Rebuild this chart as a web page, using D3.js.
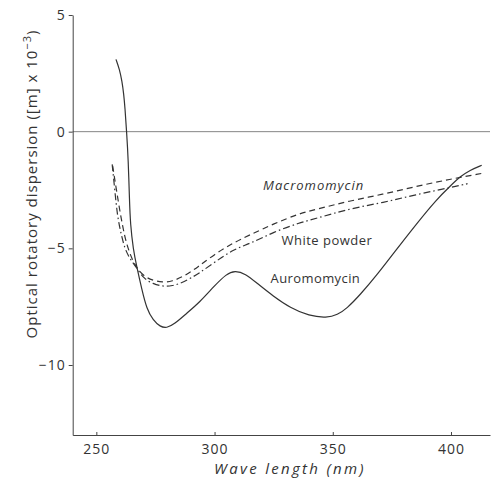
<!DOCTYPE html>
<html><head><meta charset="utf-8">
<script src="https://cdn.jsdelivr.net/npm/d3@7"></script>
<style>
body{margin:0;background:#fff;}
svg{display:block;}
text{font-family:"Open Sans","DejaVu Sans",sans-serif;fill:#333;}
</style></head>
<body><svg id="c" width="493" height="479"></svg>
<script>
// Data (wavelength nm, ORD value x10^-3)
const auromomycin = [
 [258.3,3.1],[259.8,2.67],[260.85,2.16],[261.6,1.6],[262.1,1.04],[262.8,0],[263.5,-1.19],[264.0,-2.9],[264.4,-3.97],
 [265.6,-5.04],[267.1,-5.8],[269.2,-6.74],[271.3,-7.6],[274,-8.08],[277,-8.36],[279.7,-8.42],
 [283,-8.25],[288,-7.8],[293.8,-7.3],[300,-6.6],[305,-6.1],[308.6,-5.95],[313,-6.08],[318,-6.5],
 [324.8,-7.05],[332,-7.55],[340,-7.9],[347.4,-7.98],[352,-7.85],[355.9,-7.58],[361.5,-7.0],
 [369,-6.1],[377,-5.04],[385,-4.0],[393.9,-2.9],[400,-2.3],[403.8,-1.93],[408,-1.65],[413,-1.44]
];
const macromomycin = [
 [256.9,-1.47],[258.5,-2.5],[260.3,-3.62],[262,-4.5],[263.5,-5.04],[265.5,-5.55],[267.1,-5.83],
 [270,-6.2],[274,-6.38],[278,-6.46],[282,-6.42],[287,-6.2],[293,-5.8],[300,-5.25],[308,-4.76],
 [315,-4.42],[325,-3.95],[336,-3.5],[343,-3.33],[357,-2.97],[371,-2.69],[385,-2.35],
 [399.5,-2.04],[413,-1.79]
];
const whitePowder = [
 [256.7,-1.4],[257.8,-2.5],[258.9,-3.62],[260.5,-4.4],[262.1,-5.04],[264.5,-5.5],[267.1,-5.83],
 [270,-6.3],[274,-6.52],[278,-6.63],[282,-6.62],[287,-6.45],[293,-6.1],[300,-5.6],[308,-5.04],
 [315,-4.8],[325,-4.3],[336,-3.9],[343,-3.72],[357,-3.3],[371.4,-3.04],[385,-2.7],
 [399.5,-2.4],[407,-2.23]
];
const xTicks = [250,300,350,400];
const yTicks = [5,0,-5,-10];
const seriesNames = ["Macromomycin","White powder","Auromomycin"];

const svg = d3.select("#c");
const x = d3.scaleLinear().domain([240,416.5]).range([72.7,490]);
const y = d3.scaleLinear().domain([-13,5]).range([435,15]);

// zero line
svg.append("line").attr("x1",x(240)).attr("x2",x(416.5)).attr("y1",y(0)).attr("y2",y(0))
  .attr("stroke","#777").attr("stroke-width",0.9);

const xa = svg.append("g").attr("transform",`translate(0,${y(-13)})`)
  .call(d3.axisBottom(x).tickValues(xTicks).tickSizeInner(-3).tickSizeOuter(0).tickPadding(9));
const ya = svg.append("g").attr("transform",`translate(${x(240)},0)`)
  .call(d3.axisLeft(y).tickValues(yTicks).tickSizeInner(4).tickSizeOuter(0).tickPadding(3)
    .tickFormat(d=> d<0 ? "\u2212"+Math.abs(d) : d));
[xa,ya].forEach(g=>{
  g.select(".domain").attr("stroke","#444").attr("stroke-width",1);
  g.selectAll(".tick line").attr("stroke","#444");
  g.selectAll(".tick text").attr("font-size",14).attr("fill","#333")
   .attr("letter-spacing","1").style("font-family","'Open Sans',sans-serif");
});

const line = d3.line().x(d=>x(d[0])).y(d=>y(d[1])).curve(d3.curveBasis);
svg.append("path").datum(auromomycin).attr("d",line).attr("fill","none")
  .attr("stroke","#333").attr("stroke-width",1.2);
svg.append("path").datum(macromomycin).attr("d",line).attr("fill","none")
  .attr("stroke","#333").attr("stroke-width",1.2).attr("stroke-dasharray","6,4");
svg.append("path").datum(whitePowder).attr("d",line).attr("fill","none")
  .attr("stroke","#333").attr("stroke-width",1.2).attr("stroke-dasharray","7,3,1.5,3");

// series labels
svg.append("text").attr("x",x(320.5)).attr("y",y(-2.5)).attr("font-size",13)
  .attr("font-style","italic").attr("letter-spacing","1").text(seriesNames[0]);
svg.append("text").attr("x",x(328.3)).attr("y",y(-4.84)).attr("font-size",13)
  .attr("letter-spacing","0.5").text(seriesNames[1]);
svg.append("text").attr("x",x(323.7)).attr("y",y(-6.48)).attr("font-size",13)
  .attr("letter-spacing","0.4").text(seriesNames[2]);

// axis titles
svg.append("text").attr("x",290).attr("y",474).attr("text-anchor","middle")
  .attr("font-size",15).attr("font-style","italic").attr("letter-spacing","2.3")
  .text("Wave length (nm)");
const yt = svg.append("text").attr("transform","translate(37,184) rotate(-90)")
  .attr("text-anchor","middle").attr("font-size",15)
  .attr("letter-spacing","1");
yt.append("tspan").text("Optical rotatory dispersion ([m] x 10");
yt.append("tspan").attr("dy",-6).attr("font-size",11).text("\u22123");
yt.append("tspan").attr("dy",6).text(")");
</script></body></html>
